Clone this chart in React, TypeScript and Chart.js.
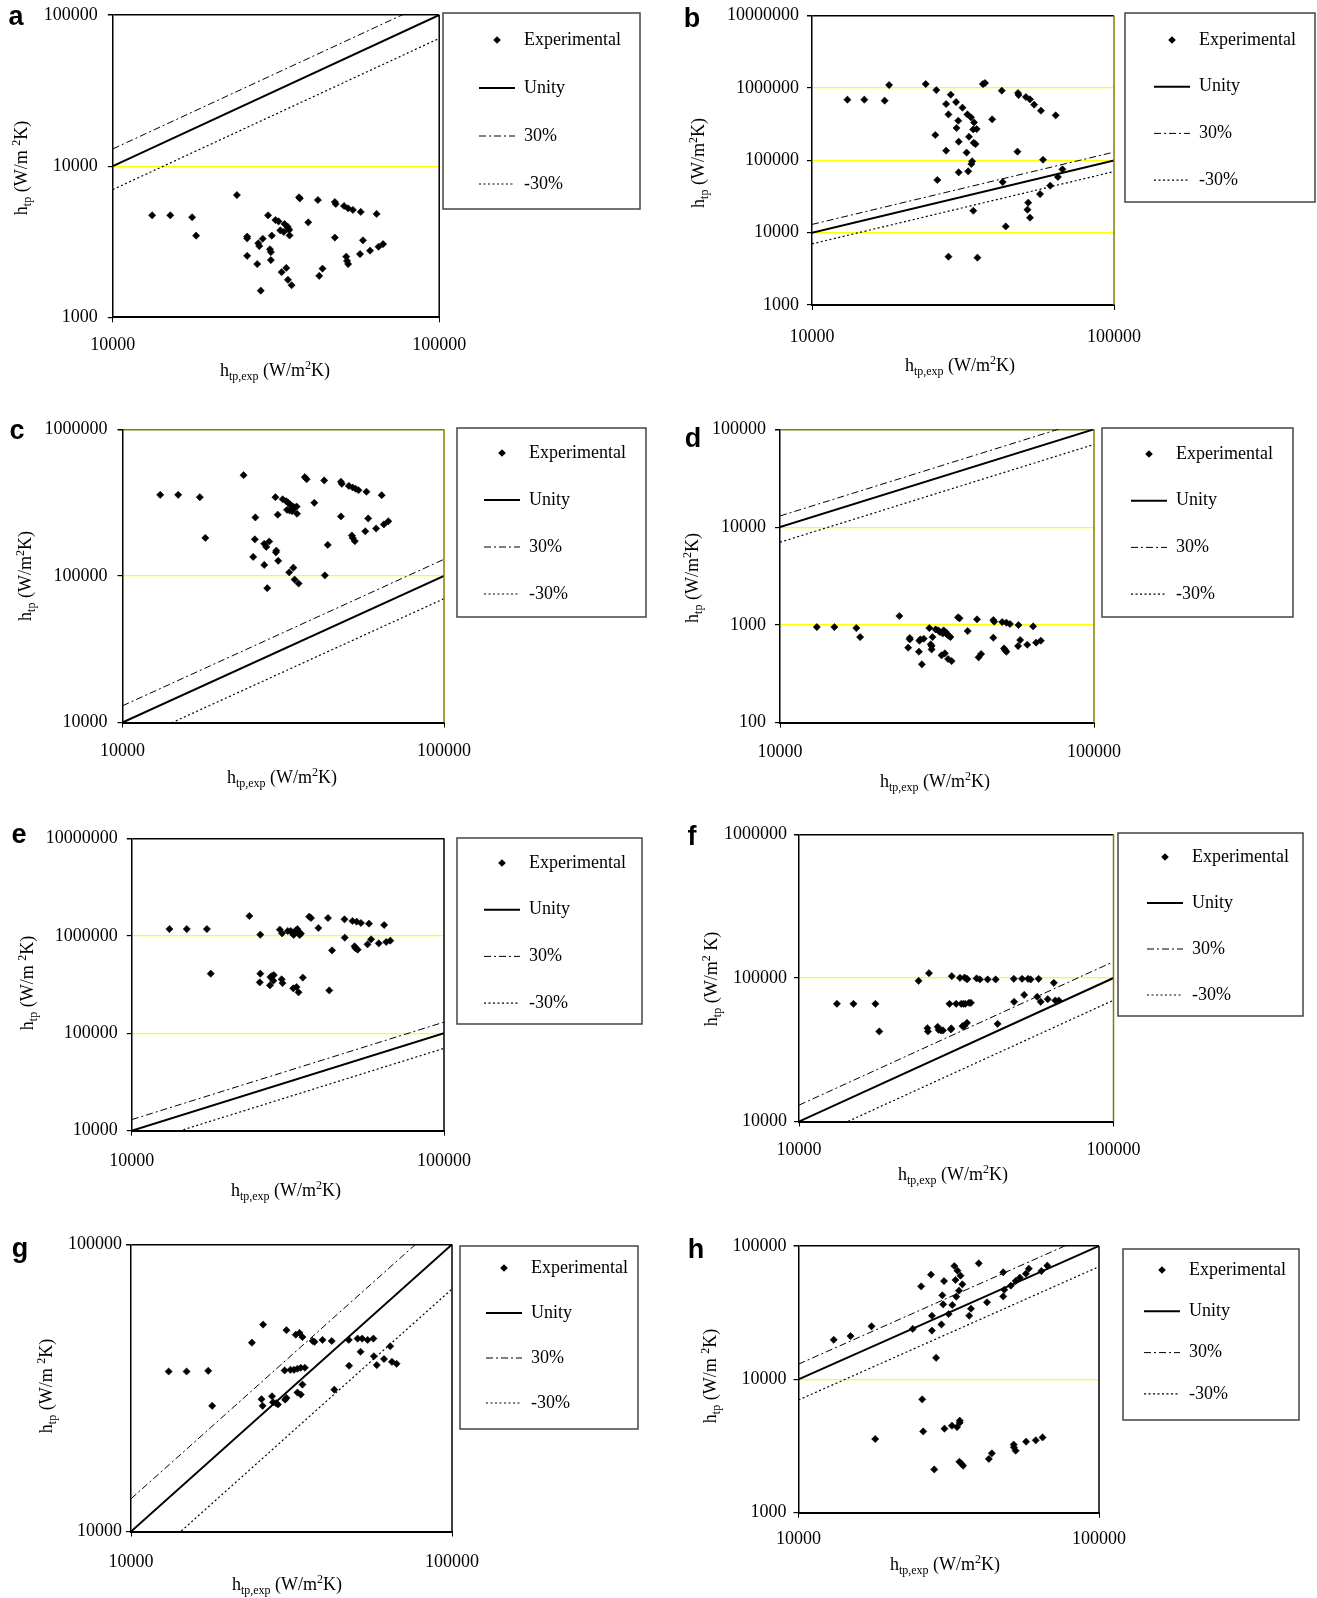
import React, { useEffect, useRef } from 'react';
import { Chart, registerables } from 'chart.js';

Chart.register(...registerables);

const SERIF = '"Liberation Serif", "Times New Roman", serif';
const SANS = '"Liberation Sans", Arial, sans-serif';

// ---------------- data ----------------
const legendLabels = ['Experimental', 'Unity', '30%', '-30%'];
const xTicks = [10000, 100000];
const lineX = [10000, 100000];
const unityY = [10000, 100000];
const plus30Y = [13000, 130000];
const minus30Y = [7000, 70000];

const yTicksA = [1000, 10000, 100000];
const yTicksB = [1000, 10000, 100000, 1000000, 10000000];
const yTicksC = [10000, 100000, 1000000];
const yTicksD = [100, 1000, 10000, 100000];
const yTicksE = [10000, 100000, 1000000, 10000000];
const yTicksF = [10000, 100000, 1000000];
const yTicksG = [10000, 100000];
const yTicksH = [1000, 10000, 100000];

const expA: [number, number][] = [
  [13200, 4730], [15000, 4730], [17500, 4590], [18000, 3470], [24000, 6440], [25800, 3420], [25800, 3330], [25800, 2550],
  [27700, 2250], [27900, 3090], [28100, 2960], [28400, 1500], [28800, 3310], [29900, 4730], [30300, 2820], [30500, 2700],
  [30500, 2390], [30700, 3470], [31500, 4400], [32200, 4310], [32600, 3760], [32900, 1990], [33400, 3670], [33600, 4140],
  [34000, 2120], [34300, 3980], [34500, 3860], [34700, 3780], [34800, 3480], [34400, 1770], [35300, 1630], [37200, 6220],
  [37400, 6120], [39700, 4250], [42500, 5970], [42900, 1880], [43900, 2100], [47900, 5790], [48200, 5620], [47900, 3370],
  [51100, 5450], [51900, 2520], [52200, 2360], [52600, 2250], [52600, 5260], [54400, 5130], [57500, 4980], [58400, 3230],
  [57200, 2620], [61400, 2760], [64300, 4830], [65200, 2930], [67300, 3050],
];
const expB: [number, number][] = [
  [13100, 690000], [14900, 690000], [17400, 668000], [18000, 1100000], [23800, 1135000], [25800, 938000], [28800, 809000],
  [27800, 601000], [28300, 432000], [30000, 640000], [31500, 535000], [32700, 432000], [33600, 393000], [34400, 335000],
  [30500, 353000], [30100, 280000], [25600, 224000], [33100, 212000], [34200, 268000], [35100, 271000], [30600, 181000],
  [34300, 175000], [34800, 168000], [27800, 136000], [32500, 128000], [33900, 96900], [33700, 89000], [30600, 68300],
  [32900, 70500], [26000, 53500], [36800, 1135000], [37400, 1172000], [39500, 369000], [42500, 919000], [48100, 853000],
  [48300, 800000], [51100, 751000], [52700, 697000], [54400, 589000], [57300, 486000], [64100, 419000], [47900, 132000],
  [58200, 102000], [67500, 75100], [65200, 58900], [61500, 44700], [56900, 34200], [52000, 26000], [51700, 20800],
  [52700, 16100], [34200, 20100], [42800, 50100], [43800, 12200], [28300, 4660], [35300, 4510],
];
const expC: [number, number][] = [
  [13100, 358000], [14900, 358000], [17400, 345000], [18100, 182000], [23800, 488000], [25900, 251000], [25800, 178000],
  [25500, 135000], [27600, 166000], [28000, 158000], [27600, 119000], [28600, 172000], [28200, 82600], [29900, 345000],
  [30400, 262000], [30100, 149000], [30000, 145000], [30500, 127000], [31500, 334000], [32300, 324000], [32800, 316000],
  [33300, 306000], [33900, 298000], [34300, 292000], [34800, 298000], [32500, 283000], [33100, 280000], [33700, 277000],
  [34900, 266000], [33000, 106000], [34000, 114000], [34300, 94600], [35300, 88900], [36900, 473000], [37400, 458000],
  [39500, 316000], [42400, 449000], [42600, 101000], [43500, 163000], [47800, 440000], [48100, 426000], [47800, 255000],
  [50600, 412000], [52000, 402000], [53100, 394000], [54200, 385000], [51700, 189000], [52000, 182000], [52800, 173000],
  [57400, 376000], [58100, 247000], [56900, 202000], [61500, 211000], [64000, 356000], [65000, 225000], [67100, 236000],
];
const expD: [number, number][] = [
  [13100, 951], [14900, 951], [17500, 929], [18000, 751], [24000, 1233], [25600, 585], [25900, 734], [25900, 711],
  [27700, 532], [27800, 689], [28000, 711], [28300, 395], [28700, 722], [29900, 929], [30200, 632], [30400, 608],
  [30400, 562], [30600, 751], [31300, 900], [31900, 879], [32300, 845], [32700, 488], [33000, 819], [33200, 879],
  [33500, 512], [33800, 839], [34000, 800], [34400, 776], [34900, 751], [34300, 448], [35200, 427], [36900, 1194],
  [37300, 1167], [39600, 865], [42400, 1140], [42900, 466], [43700, 504], [47800, 1122], [48100, 1079], [47800, 740],
  [51000, 1069], [51700, 575], [52100, 553], [52600, 532], [52600, 1053], [54000, 1021], [57500, 997], [58200, 700],
  [57300, 608], [61300, 627], [64000, 966], [65400, 658], [67700, 689],
];
const expE: [number, number][] = [
  [13200, 1172000], [15000, 1172000], [17400, 1172000], [17900, 408000], [23800, 1596000], [25800, 1026000],
  [25800, 408000], [25700, 333000], [27700, 310000], [27800, 377000], [28100, 386000], [28400, 346000], [28500, 395000],
  [29800, 1156000], [30300, 1059000], [30200, 357000], [30400, 327000], [31600, 1119000], [32300, 1119000],
  [32700, 1059000], [33000, 1018000], [33400, 1119000], [33900, 1172000], [34200, 1102000], [34500, 1018000],
  [34800, 1052000], [32900, 289000], [33700, 298000], [34200, 263000], [35300, 372000], [37000, 1570000],
  [37500, 1521000], [39600, 1202000], [42500, 1521000], [42900, 275000], [43800, 708000], [48000, 1475000],
  [48100, 956000], [50900, 1418000], [52500, 1396000], [54200, 1352000], [51700, 780000], [52000, 748000],
  [52900, 720000], [57500, 1331000], [58400, 919000], [56900, 817000], [61800, 836000], [64300, 1289000],
  [65300, 863000], [67300, 891000],
];
const expF: [number, number][] = [
  [13200, 66100], [14900, 66100], [17500, 66100], [18000, 42400], [24000, 95500], [25900, 108000], [25600, 44700],
  [25700, 42400], [27600, 45700], [27800, 43500], [28300, 43100], [28700, 43100], [30100, 66100], [30600, 103000],
  [31600, 66100], [30500, 44500], [30400, 43800], [32500, 100300], [32800, 66100], [33100, 46200], [33300, 66100],
  [33600, 100800], [33800, 66100], [34100, 98700], [34200, 48700], [34300, 98100], [33500, 46200], [34700, 67100],
  [35200, 67100], [36700, 99300], [37600, 97700], [39800, 97700], [42200, 97700], [42800, 47900], [48200, 98700],
  [48300, 68200], [51200, 98700], [52000, 76300], [53500, 98700], [54500, 97700], [57200, 73900], [57800, 98700],
  [58700, 68200], [61800, 71200], [64600, 92500], [65300, 69700], [67000, 69700],
];
const expG: [number, number][] = [
  [13100, 36100], [14900, 36100], [17400, 36300], [17900, 27400], [23800, 45500], [25800, 52600], [25500, 28900],
  [25700, 27400], [27500, 29600], [27700, 28200], [28300, 28000], [28700, 27700], [30100, 36400], [30500, 50300],
  [30200, 28800], [30500, 29200], [31400, 36600], [32200, 36600], [32600, 48500], [33000, 36900], [33500, 49200],
  [33000, 30500], [33800, 30000], [33800, 37200], [34200, 47600], [34200, 32500], [34800, 37200], [36800, 46100],
  [37300, 45800], [39500, 46500], [42200, 46100], [43000, 31200], [47700, 46500], [47800, 37800], [50800, 47000],
  [51900, 42300], [52500, 47000], [54600, 46500], [56900, 47000], [57100, 40800], [58300, 38000], [61400, 39900],
  [64200, 44200], [65000, 39000], [67200, 38400],
];
const expH: [number, number][] = [
  [13100, 19800], [14900, 21100], [17500, 25000], [18000, 3570], [24000, 23900], [25600, 49800], [25800, 7080],
  [26000, 4070], [27600, 61000], [27800, 30000], [27800, 23200], [28300, 2110], [28700, 14500], [29900, 25800],
  [30100, 42700], [30300, 36500], [30500, 54600], [30600, 4270], [31600, 30900], [32400, 4490], [32500, 36100],
  [33000, 70800], [33300, 55600], [33500, 41700], [33700, 4390], [33800, 65300], [34200, 46200], [34400, 4900],
  [34400, 4730], [34600, 59900], [34300, 2410], [34800, 2340], [35100, 51600], [35300, 2250], [37000, 30000],
  [37500, 33900], [39800, 74100], [42400, 37800], [43000, 2530], [44000, 2790], [48000, 63500], [48000, 41900],
  [48400, 47000], [50900, 50400], [52000, 3240], [52100, 3090], [52800, 54600], [52800, 2920], [54500, 57900],
  [57200, 3410], [57100, 62000], [58400, 67600], [61600, 3490], [64300, 64900], [64900, 3670], [67300, 71200],
];

// ---------------- text pieces ----------------
type Part = { t: string; s: number; dy: number };
const xTitleParts: Part[] = [
  { t: 'h', s: 18, dy: 0 },
  { t: 'tp,exp', s: 12, dy: 4 },
  { t: ' (W/m', s: 18, dy: 0 },
  { t: '2', s: 12, dy: -7 },
  { t: 'K)', s: 18, dy: 0 },
];
function yTitleParts(mid: string, after: string): Part[] {
  return [
    { t: 'h', s: 18, dy: 0 },
    { t: 'tp', s: 12, dy: 4 },
    { t: mid, s: 18, dy: 0 },
    { t: '2', s: 12, dy: -7 },
    { t: after, s: 18, dy: 0 },
  ];
}

// ---------------- layout ----------------
type Panel = {
  letter: string;
  frame: [number, number, number, number];
  plot: [number, number, number, number];
  yTicks: number[];
  data: [number, number][];
  legendBox: [number, number, number, number];
  markerX: number;
  firstY: number;
  legendPad: number;
  yPad: number;
  xPad: number;
  xTitle: [number, number];
  yTitle: [number, number];
  letterPos: [number, number];
  topColor: string;
  rightColor: string;
  yParts: Part[];
};

const OLIVE = '#808000';
const PANELS: Panel[] = [
  { letter: 'a', frame: [0, 0, 658, 398], plot: [112.8, 15, 439.2, 317.3], yTicks: yTicksA, data: expA,
    legendBox: [443, 13, 640, 209], markerX: 497, firstY: 40, legendPad: 30, yPad: 10, xPad: 12,
    xTitle: [275, 370], yTitle: [21, 168], letterPos: [16, 18], topColor: '#000', rightColor: '#000',
    yParts: yTitleParts(' (W/m ', 'K)') },
  { letter: 'b', frame: [658, 0, 659, 398], plot: [812, 15.7, 1114, 305], yTicks: yTicksB, data: expB,
    legendBox: [1125, 13, 1315, 202], markerX: 1172, firstY: 40, legendPad: 28.7, yPad: 8, xPad: 16,
    xTitle: [960, 365], yTitle: [698, 163], letterPos: [692, 20], topColor: '#000', rightColor: OLIVE,
    yParts: yTitleParts(' (W/m', 'K)') },
  { letter: 'c', frame: [0, 398, 658, 402], plot: [122.5, 429.5, 444, 722.5], yTicks: yTicksC, data: expC,
    legendBox: [457, 428, 646, 617], markerX: 502, firstY: 453, legendPad: 29, yPad: 10, xPad: 13,
    xTitle: [282, 777], yTitle: [25, 576], letterPos: [17, 432], topColor: OLIVE, rightColor: OLIVE,
    yParts: yTitleParts(' (W/m', 'K)') },
  { letter: 'd', frame: [658, 398, 659, 402], plot: [780, 429.3, 1094, 722.7], yTicks: yTicksD, data: expD,
    legendBox: [1102, 428, 1293, 617], markerX: 1149, firstY: 454, legendPad: 28.7, yPad: 9, xPad: 14,
    xTitle: [935, 781], yTitle: [692, 578], letterPos: [693, 440], topColor: OLIVE, rightColor: OLIVE,
    yParts: yTitleParts(' (W/m', 'K)') },
  { letter: 'e', frame: [0, 800, 658, 405], plot: [131.8, 838.3, 444, 1130.7], yTicks: yTicksE, data: expE,
    legendBox: [457, 838, 642, 1024], markerX: 502, firstY: 863, legendPad: 28.7, yPad: 9, xPad: 15,
    xTitle: [286, 1190], yTitle: [27, 983], letterPos: [19, 836], topColor: '#000', rightColor: '#000',
    yParts: yTitleParts(' (W/m ', 'K)') },
  { letter: 'f', frame: [658, 800, 659, 405], plot: [799, 834.5, 1113.5, 1121.5], yTicks: yTicksF, data: expF,
    legendBox: [1118, 833, 1303, 1016], markerX: 1165, firstY: 857, legendPad: 28, yPad: 7, xPad: 13,
    xTitle: [953, 1174], yTitle: [711, 979], letterPos: [692, 838], topColor: '#000', rightColor: OLIVE,
    yParts: yTitleParts(' (W/m', ' K)') },
  { letter: 'g', frame: [0, 1205, 658, 393], plot: [131, 1244.5, 452, 1531.5], yTicks: yTicksG, data: expG,
    legendBox: [460, 1246, 638, 1429], markerX: 504, firstY: 1268, legendPad: 27, yPad: 4, xPad: 15,
    xTitle: [287, 1584], yTitle: [46, 1386], letterPos: [20, 1250], topColor: '#000', rightColor: '#000',
    yParts: yTitleParts(' (W/m ', 'K)') },
  { letter: 'h', frame: [658, 1205, 659, 393], plot: [798.5, 1246, 1099, 1512.7], yTicks: yTicksH, data: expH,
    legendBox: [1123, 1249, 1299, 1420], markerX: 1162, firstY: 1270, legendPad: 23.3, yPad: 7, xPad: 11,
    xTitle: [945, 1564], yTitle: [710, 1376], letterPos: [696, 1251], topColor: '#000', rightColor: '#000',
    yParts: yTitleParts(' (W/m ', 'K)') },
];

const Y_AXIS_W = 100;
const X_AXIS_H = 40;
const LEGEND_BOX_W = 36;

function drawRich(ctx: CanvasRenderingContext2D, parts: Part[], cx: number, cy: number, rotate: boolean) {
  ctx.save();
  ctx.translate(cx, cy);
  if (rotate) ctx.rotate(-Math.PI / 2);
  let total = 0;
  const widths: number[] = [];
  for (const p of parts) {
    ctx.font = `${p.s}px ${SERIF}`;
    const w = ctx.measureText(p.t).width;
    widths.push(w);
    total += w;
  }
  let x = -total / 2;
  ctx.fillStyle = '#000';
  ctx.textAlign = 'left';
  ctx.textBaseline = 'alphabetic';
  parts.forEach((p, i) => {
    ctx.font = `${p.s}px ${SERIF}`;
    ctx.fillText(p.t, x, 6 + p.dy);
    x += widths[i];
  });
  ctx.restore();
}

function makeDiamond(r: number): HTMLCanvasElement {
  const c = document.createElement('canvas');
  const s = Math.ceil(r * 2 + 2);
  c.width = s;
  c.height = s;
  const g = c.getContext('2d')!;
  g.fillStyle = '#000';
  g.beginPath();
  g.moveTo(s / 2, s / 2 - r);
  g.lineTo(s / 2 + r, s / 2);
  g.lineTo(s / 2, s / 2 + r);
  g.lineTo(s / 2 - r, s / 2);
  g.closePath();
  g.fill();
  return c;
}

function PanelChart({ p }: { p: Panel }) {
  const ref = useRef<HTMLCanvasElement>(null);
  const [fx, fy, fw, fh] = p.frame;

  useEffect(() => {
    const canvas = ref.current;
    if (!canvas) return;
    const [pl, pt, pr, pb] = p.plot;
    const yMin = p.yTicks[0];
    const yMax = p.yTicks[p.yTicks.length - 1];
    const diamond = makeDiamond(3.8);

    const decor = {
      id: 'decor' + p.letter,
      beforeDraw(chart: any) {
        const lg = chart.legend;
        if (lg) {
          lg.left = p.markerX - fx - p.legendPad - LEGEND_BOX_W / 2;
          lg.top = p.firstY - fy - p.legendPad - 9;
          lg.width = 400;
          lg.height = 1000;
          lg.right = lg.left + 400;
          lg.bottom = lg.top + 1000;
        }
      },
      afterDraw(chart: any) {
        const ctx: CanvasRenderingContext2D = chart.ctx;
        const a = chart.chartArea;
        ctx.save();
        ctx.strokeStyle = p.rightColor;
        ctx.lineWidth = 1.5;
        ctx.beginPath();
        ctx.moveTo(a.right, a.top);
        ctx.lineTo(a.right, a.bottom);
        ctx.stroke();
        const [bx0, by0, bx1, by1] = p.legendBox;
        ctx.strokeStyle = '#444';
        ctx.lineWidth = 1.5;
        ctx.strokeRect(bx0 - fx, by0 - fy, bx1 - bx0, by1 - by0);
        ctx.fillStyle = '#000';
        ctx.font = `bold 27px ${SANS}`;
        ctx.textAlign = 'center';
        ctx.textBaseline = 'middle';
        ctx.fillText(p.letter, p.letterPos[0] - fx, p.letterPos[1] - fy);
        drawRich(ctx, xTitleParts, p.xTitle[0] - fx, p.xTitle[1] - fy, false);
        drawRich(ctx, p.yParts, p.yTitle[0] - fx, p.yTitle[1] - fy, true);
        ctx.restore();
      },
    };

    const lineDs = (label: string, ys: number[], width: number, dash: number[]) => ({
      label,
      data: lineX.map((x, i) => ({ x, y: ys[i] })),
      showLine: true,
      borderColor: '#000',
      backgroundColor: '#000',
      borderWidth: width,
      borderDash: dash,
      pointRadius: 0,
      pointHoverRadius: 0,
      fill: false,
      tension: 0,
    });

    const datasets: any[] = [
      {
        label: legendLabels[0],
        data: p.data.map(([x, y]) => ({ x, y })),
        pointStyle: 'rectRot',
        pointRadius: 3.6,
        pointBorderWidth: 0.6,
        backgroundColor: '#000',
        borderColor: '#000',
        showLine: false,
      },
      lineDs(legendLabels[1], unityY, 2, []),
      lineDs(legendLabels[2], plus30Y, 1, [7, 3, 2, 3]),
      lineDs(legendLabels[3], minus30Y, 1.2, [2, 2.5]),
    ];

    const chart = new Chart(canvas, {
      type: 'scatter',
      data: { datasets },
      options: {
        animation: false,
        responsive: false,
        events: [],
        layout: {
          autoPadding: false,
          padding: {
            left: pl - fx - Y_AXIS_W,
            top: pt - fy,
            right: fx + fw - pr,
            bottom: fy + fh - pb - X_AXIS_H,
          },
        },
        scales: {
          x: {
            type: 'logarithmic',
            position: 'bottom',
            min: xTicks[0],
            max: xTicks[xTicks.length - 1],
            afterBuildTicks: (s: any) => {
              s.ticks = xTicks.map((v) => ({ value: v }));
            },
            afterFit: (s: any) => {
              s.height = X_AXIS_H;
              s.paddingLeft = 0;
              s.paddingRight = 0;
              s.paddingTop = 0;
              s.paddingBottom = 0;
            },
            ticks: {
              callback: (v: any) => String(v),
              autoSkip: false,
              maxRotation: 0,
              padding: p.xPad,
              color: '#000',
              font: { family: SERIF, size: 18 },
            },
            grid: { drawOnChartArea: false, drawTicks: true, tickLength: 5, color: '#000', tickColor: '#000' },
            border: { display: true, color: '#000', width: 2 },
          },
          y: {
            type: 'logarithmic',
            position: 'left',
            min: yMin,
            max: yMax,
            afterBuildTicks: (s: any) => {
              s.ticks = p.yTicks.map((v) => ({ value: v }));
            },
            afterFit: (s: any) => {
              s.width = Y_AXIS_W;
              s.paddingTop = 0;
              s.paddingBottom = 0;
              s.paddingLeft = 0;
              s.paddingRight = 0;
            },
            ticks: {
              callback: (v: any) => String(v),
              autoSkip: false,
              padding: p.yPad,
              color: '#000',
              font: { family: SERIF, size: 18 },
            },
            grid: {
              drawTicks: true,
              tickLength: 5,
              tickColor: '#000',
              color: (c: any) => {
                const v = c.tick ? c.tick.value : null;
                if (v === yMax) return p.topColor;
                if (v === yMin) return 'rgba(0,0,0,0)';
                return '#ffff00';
              },
              lineWidth: (c: any) => (c.tick && c.tick.value === yMax ? 1.5 : 1.2),
            },
            border: { display: true, color: '#000', width: 1.5 },
          },
        },
        plugins: {
          tooltip: { enabled: false },
          title: { display: false },
          legend: {
            display: true,
            position: 'chartArea',
            align: 'start',
            labels: {
              usePointStyle: true,
              pointStyleWidth: LEGEND_BOX_W,
              boxHeight: 8,
              padding: p.legendPad,
              color: '#000',
              font: { family: SERIF, size: 18 },
              generateLabels: (ch: any) =>
                ch.data.datasets.map((ds: any, i: number) => ({
                  text: legendLabels[i],
                  fillStyle: '#000',
                  strokeStyle: '#000',
                  fontColor: '#000',
                  lineWidth: i === 0 ? 0 : ds.borderWidth,
                  lineDash: i === 0 ? [] : ds.borderDash,
                  pointStyle: i === 0 ? diamond : 'line',
                  hidden: false,
                  datasetIndex: i,
                })),
            },
          },
        },
      } as any,
      plugins: [decor],
    });

    return () => {
      chart.destroy();
    };
  }, []);

  return (
    <canvas
      ref={ref}
      width={fw}
      height={fh}
      style={{ position: 'absolute', left: fx, top: fy, width: fw, height: fh }}
    />
  );
}

export default function App() {
  return (
    <div style={{ position: 'absolute', left: 0, top: 0, width: 1317, height: 1598, background: '#fff' }}>
      {PANELS.map((p) => (
        <PanelChart key={p.letter} p={p} />
      ))}
    </div>
  );
}
